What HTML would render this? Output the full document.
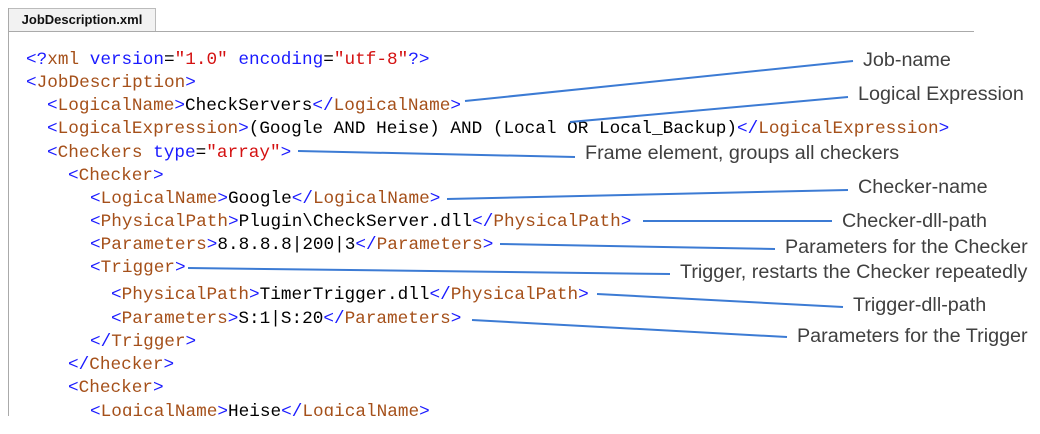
<!DOCTYPE html>
<html><head><meta charset="utf-8"><style>
body{margin:0;width:1040px;height:434px;background:#fff;position:relative;overflow:hidden;font-family:"Liberation Mono",monospace}
.tab{position:absolute;left:8px;top:8px;width:146px;height:22px;border:1px solid #bbb;border-bottom:none;background:#f2f2f2;font:bold 13px "Liberation Sans",sans-serif;text-align:center;line-height:22px;color:#111}
.top{position:absolute;left:8px;top:31px;width:966px;height:1px;background:#aaa}
.left{position:absolute;left:8px;top:8px;width:1px;height:408px;background:#aaa}
.l{position:absolute;font-size:17.7px;white-space:pre;height:23px;line-height:23px;color:#000}
.b{color:#1a1aff}.t{color:#a5501a}.r{color:#d41111}
.a{position:absolute;font:19px "Liberation Sans",sans-serif;color:#404040;white-space:nowrap;line-height:22px;transform-origin:left center;transform:scaleX(1.04)}
svg{position:absolute;left:0;top:0}
</style></head><body>
<div class="tab">JobDescription.xml</div>
<div class="top"></div><div class="left"></div>
<div class="l" style="left:26px;top:49px"><span class="b">&lt;?</span><span class="t">xml</span> <span class="b">version</span>=<span class="r">"1.0"</span> <span class="b">encoding</span>=<span class="r">"utf-8"</span><span class="b">?&gt;</span></div>
<div class="l" style="left:26px;top:72px"><span class="b">&lt;</span><span class="t">JobDescription</span><span class="b">&gt;</span></div>
<div class="l" style="left:47px;top:95px"><span class="b">&lt;</span><span class="t">LogicalName</span><span class="b">&gt;</span>CheckServers<span class="b">&lt;/</span><span class="t">LogicalName</span><span class="b">&gt;</span></div>
<div class="l" style="left:47px;top:118px"><span class="b">&lt;</span><span class="t">LogicalExpression</span><span class="b">&gt;</span>(Google AND Heise) AND (Local OR Local_Backup)<span class="b">&lt;/</span><span class="t">LogicalExpression</span><span class="b">&gt;</span></div>
<div class="l" style="left:47px;top:142px"><span class="b">&lt;</span><span class="t">Checkers</span> <span class="b">type</span>=<span class="r">"array"</span><span class="b">&gt;</span></div>
<div class="l" style="left:68px;top:165px"><span class="b">&lt;</span><span class="t">Checker</span><span class="b">&gt;</span></div>
<div class="l" style="left:90px;top:188px"><span class="b">&lt;</span><span class="t">LogicalName</span><span class="b">&gt;</span>Google<span class="b">&lt;/</span><span class="t">LogicalName</span><span class="b">&gt;</span></div>
<div class="l" style="left:90px;top:211px"><span class="b">&lt;</span><span class="t">PhysicalPath</span><span class="b">&gt;</span>Plugin\CheckServer.dll<span class="b">&lt;/</span><span class="t">PhysicalPath</span><span class="b">&gt;</span></div>
<div class="l" style="left:90px;top:234px"><span class="b">&lt;</span><span class="t">Parameters</span><span class="b">&gt;</span>8.8.8.8|200|3<span class="b">&lt;/</span><span class="t">Parameters</span><span class="b">&gt;</span></div>
<div class="l" style="left:90px;top:257px"><span class="b">&lt;</span><span class="t">Trigger</span><span class="b">&gt;</span></div>
<div class="l" style="left:111px;top:284px"><span class="b">&lt;</span><span class="t">PhysicalPath</span><span class="b">&gt;</span>TimerTrigger.dll<span class="b">&lt;/</span><span class="t">PhysicalPath</span><span class="b">&gt;</span></div>
<div class="l" style="left:111px;top:308px"><span class="b">&lt;</span><span class="t">Parameters</span><span class="b">&gt;</span>S:1|S:20<span class="b">&lt;/</span><span class="t">Parameters</span><span class="b">&gt;</span></div>
<div class="l" style="left:90px;top:331px"><span class="b">&lt;/</span><span class="t">Trigger</span><span class="b">&gt;</span></div>
<div class="l" style="left:68px;top:354px"><span class="b">&lt;/</span><span class="t">Checker</span><span class="b">&gt;</span></div>
<div class="l" style="left:68px;top:377px"><span class="b">&lt;</span><span class="t">Checker</span><span class="b">&gt;</span></div>
<div class="l" style="left:90px;top:401px"><span class="b">&lt;</span><span class="t">LogicalName</span><span class="b">&gt;</span>Heise<span class="b">&lt;/</span><span class="t">LogicalName</span><span class="b">&gt;</span></div>
<div style="position:absolute;left:0;top:416px;width:1040px;height:18px;background:#fff"></div>
<svg width="1040" height="434"><g stroke="#3c7bd4" stroke-width="2" fill="none">
<line x1="465" y1="101" x2="853" y2="61"/>
<line x1="570" y1="122" x2="848" y2="97"/>
<line x1="298" y1="151" x2="575" y2="157"/>
<line x1="447" y1="199" x2="848" y2="190"/>
<line x1="643" y1="221" x2="832" y2="221"/>
<line x1="500" y1="244" x2="775" y2="249"/>
<line x1="188" y1="268" x2="670" y2="274"/>
<line x1="597" y1="294" x2="843" y2="307"/>
<line x1="472" y1="320" x2="787" y2="337"/>
</g></svg>
<div class="a" style="left:863px;top:50px">Job-name</div>
<div class="a" style="left:858px;top:84px">Logical Expression</div>
<div class="a" style="left:585px;top:143px">Frame element, groups all checkers</div>
<div class="a" style="left:858px;top:177px">Checker-name</div>
<div class="a" style="left:842px;top:211px">Checker-dll-path</div>
<div class="a" style="left:785px;top:237px">Parameters for the Checker</div>
<div class="a" style="left:680px;top:262px">Trigger, restarts the Checker repeatedly</div>
<div class="a" style="left:853px;top:295px">Trigger-dll-path</div>
<div class="a" style="left:797px;top:326px">Parameters for the Trigger</div>
</body></html>
